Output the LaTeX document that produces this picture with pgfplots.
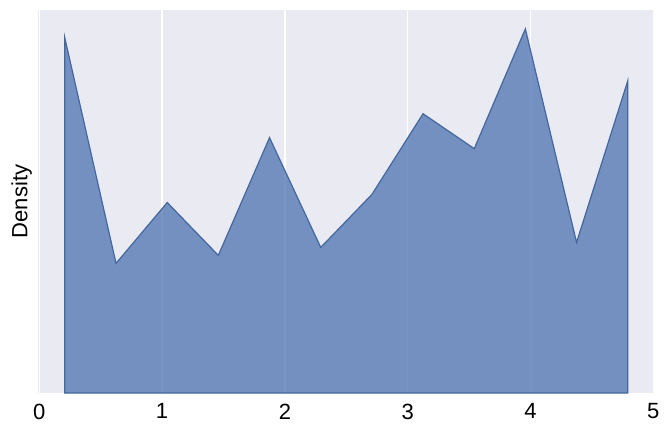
\documentclass[border=0pt]{standalone}
\usepackage{fontspec}
\setmainfont{Liberation Sans}
\usepackage{pgfplots}
\pgfplotsset{compat=1.18}
\usetikzlibrary{calc}
\definecolor{sbblue}{RGB}{76,114,176}
\definecolor{sbbg}{RGB}{234,234,242}

\begin{document}
\begin{tikzpicture}
\begin{axis}[
  scale only axis,
  width=461pt, height=287pt,
  xmin=-0.01, xmax=5.0, ymin=0, ymax=384,
  xtick={0,1,2,3,4,5},
  ytick=\empty,
  axis background/.style={fill=sbbg},
  axis line style={draw=none},
  major tick length=0pt,
  xmajorgrids, grid style={white, line width=1.1pt},
  tick label style={font=\fontsize{16.5}{19}\selectfont},
  xticklabel style={yshift=-4.5pt},
  /pgf/number format/assume math mode=true,
  ylabel={Density},
  ylabel style={font=\fontsize{16.5}{19}\selectfont, yshift=1pt},
]
  \addplot[draw=sbblue!90!black, line width=0.9pt, fill=sbblue, fill opacity=0.75] coordinates {
    (0.208,0) (0.208,356) (0.625,130) (1.042,191) (1.458,138) (1.875,256) (2.292,146)
    (2.708,199) (3.125,280) (3.542,245) (3.958,365) (4.375,151) (4.792,313) (4.792,0)
  } -- cycle;
\end{axis}
\path ($(current axis.south west)+(-28.5pt,-33pt)$) rectangle ($(current axis.north east)+(11pt,7.5pt)$);
\end{tikzpicture}
\end{document}
